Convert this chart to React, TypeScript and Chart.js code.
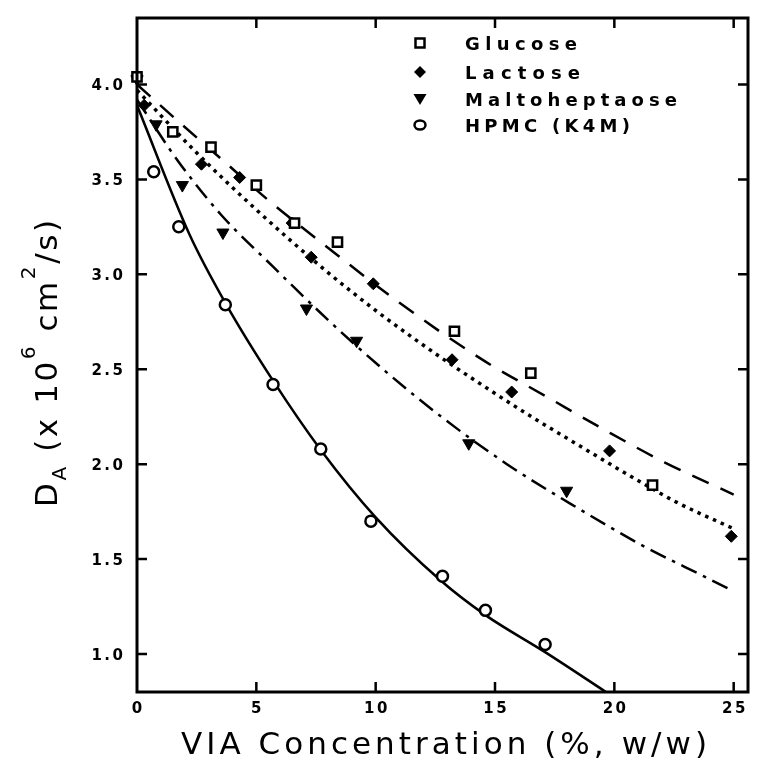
import React, { useEffect, useRef } from "react";
import { Chart, registerables } from "chart.js";

Chart.register(...registerables);

// ---------- data ----------
const glucoseX = [0, 1.5, 3.1, 5.0, 6.6, 8.4, 13.3, 16.5, 21.6];
const glucoseY = [4.04, 3.75, 3.67, 3.47, 3.27, 3.17, 2.70, 2.48, 1.89];

const lactoseX = [0, 0.3, 2.7, 4.3, 6.5, 7.3, 9.9, 13.2, 15.7, 19.8, 24.9];
const lactoseY = [4.04, 3.89, 3.58, 3.51, 3.27, 3.09, 2.95, 2.55, 2.38, 2.07, 1.62];

const maltoX = [0, 0.8, 1.9, 3.6, 7.1, 9.2, 13.9, 18.0];
const maltoY = [4.03, 3.79, 3.47, 3.22, 2.82, 2.65, 2.11, 1.86];

const hpmcX = [0.7, 1.75, 3.7, 5.7, 7.7, 9.8, 12.8, 14.6, 17.1];
const hpmcY = [3.54, 3.25, 2.84, 2.42, 2.08, 1.70, 1.41, 1.23, 1.05];

// fitted curves
const glucoseFitX = [0, 1.6, 3.6, 5.6, 7.8, 11.0, 14.6, 17.1, 19.6, 22.1, 25];
const glucoseFitY = [4.0, 3.82, 3.6, 3.38, 3.16, 2.85, 2.54, 2.36, 2.18, 2.01, 1.84];

const lactoseFitX = [0, 2.5, 5.0, 7.9, 10.1, 12.7, 14.3, 16.4, 18.5, 20.5, 22.6, 25];
const lactoseFitY = [3.97, 3.64, 3.34, 3.02, 2.8, 2.565, 2.43, 2.26, 2.1, 1.95, 1.8, 1.66];

const maltoFitX = [0, 1.7, 3.55, 5.7, 8.0, 10.4, 12.85, 15.5, 18.45, 21.2, 23.9, 25];
const maltoFitY = [3.92, 3.6, 3.31, 3.04, 2.76, 2.49, 2.24, 2.0, 1.77, 1.57, 1.4, 1.33];

const hpmcFitX = [0, 2.2, 3.7, 5.7, 7.7, 10.0, 12.7, 14.6, 17.1, 19.65];
const hpmcFitY = [3.89, 3.21, 2.85, 2.44, 2.075, 1.72, 1.39, 1.205, 1.01, 0.8];

const seriesNames = ["Glucose", "Lactose", "Maltoheptaose", "HPMC (K4M)"];
const xTicks = [0, 5, 10, 15, 20, 25];
const yTicks = [1.0, 1.5, 2.0, 2.5, 3.0, 3.5, 4.0];
const xTitle = "VIA Concentration (%, w/w)";

const X_MIN = 0;
const X_MAX = 25.6;
const Y_MIN = 0.8;
const Y_MAX = 4.35;

const zip = (xs: number[], ys: number[]) => xs.map((x, i) => ({ x, y: ys[i] }));

const FONT = '"DejaVu Sans", sans-serif';

function charWidths(ctx: CanvasRenderingContext2D, text: string) {
  return Array.from(text).map((c) => ctx.measureText(c).width);
}

function drawSpaced(
  ctx: CanvasRenderingContext2D,
  text: string,
  x: number,
  y: number,
  opts: { target?: number; spacing?: number; align?: "left" | "center" | "right" }
) {
  const chars = Array.from(text);
  const ws = charWidths(ctx, text);
  const natural = ws.reduce((a, b) => a + b, 0);
  let sp = opts.spacing ?? 0;
  if (opts.target !== undefined && chars.length > 1) sp = (opts.target - natural) / (chars.length - 1);
  const total = natural + sp * (chars.length - 1);
  let cx = x;
  if (opts.align === "center") cx = x - total / 2;
  else if (opts.align === "right") cx = x - total;
  ctx.textAlign = "left";
  chars.forEach((c, i) => {
    ctx.fillText(c, cx, y);
    cx += ws[i] + sp;
  });
}

const framePlugin = {
  id: "framePlugin",
  afterDraw(chart: any) {
    const ctx: CanvasRenderingContext2D = chart.ctx;
    const { left, right, top, bottom } = chart.chartArea;
    const xs = chart.scales.x;
    const ys = chart.scales.y;
    ctx.save();
    ctx.strokeStyle = "#000";
    ctx.fillStyle = "#000";
    // frame
    ctx.lineWidth = 3;
    ctx.strokeRect(left, top, right - left, bottom - top);
    // inward ticks
    ctx.lineWidth = 2.5;
    const TL = 10;
    xTicks.forEach((v) => {
      if (v === X_MIN) return;
      const px = xs.getPixelForValue(v);
      ctx.beginPath();
      ctx.moveTo(px, bottom);
      ctx.lineTo(px, bottom - TL);
      ctx.moveTo(px, top);
      ctx.lineTo(px, top + TL);
      ctx.stroke();
    });
    yTicks.forEach((v) => {
      const py = ys.getPixelForValue(v);
      ctx.beginPath();
      ctx.moveTo(left, py);
      ctx.lineTo(left + TL, py);
      ctx.moveTo(right, py);
      ctx.lineTo(right - TL, py);
      ctx.stroke();
    });
    // tick labels
    ctx.font = `bold 15px ${FONT}`;
    ctx.textBaseline = "alphabetic";
    yTicks.forEach((v) => {
      const py = ys.getPixelForValue(v);
      drawSpaced(ctx, v.toFixed(1), left - 14, py + 5.5, { spacing: 2.5, align: "right" });
    });
    xTicks.forEach((v) => {
      const px = xs.getPixelForValue(v);
      drawSpaced(ctx, String(v), px, 713, { spacing: 2.5, align: "center" });
    });
    // x title
    ctx.font = `31px ${FONT}`;
    drawSpaced(ctx, xTitle, 444, 754, { target: 526, align: "center" });

    // y title (rotated), with subscript / superscripts
    ctx.save();
    ctx.translate(57, 507);
    ctx.rotate(-Math.PI / 2);
    const runs: { t: string; size: number; dy: number }[] = [
      { t: "D", size: 31, dy: 0 },
      { t: "A", size: 20, dy: 9 },
      { t: " (x 10", size: 31, dy: 0 },
      { t: "6", size: 20, dy: -22 },
      { t: " cm", size: 31, dy: 0 },
      { t: "2", size: 20, dy: -22 },
      { t: "/s)", size: 31, dy: 0 },
    ];
    let natural = 0;
    let nChars = 0;
    const runWidths = runs.map((r) => {
      ctx.font = `${r.size}px ${FONT}`;
      const ws = charWidths(ctx, r.t);
      natural += ws.reduce((a, b) => a + b, 0);
      nChars += ws.length;
      return ws;
    });
    const sp = (287 - natural) / (nChars - 1);
    let cx = 0;
    runs.forEach((r, ri) => {
      ctx.font = `${r.size}px ${FONT}`;
      Array.from(r.t).forEach((c, i) => {
        ctx.fillText(c, cx, r.dy);
        cx += runWidths[ri][i] + sp;
      });
    });
    ctx.restore();

    // legend
    const rowsY = [43, 72, 99, 125];
    const targets = [112, 115, 212, 165];
    const mx = 420;
    ctx.lineWidth = 2.5;
    // square
    ctx.fillStyle = "#fff";
    ctx.fillRect(mx - 4.5, rowsY[0] - 4.5, 9, 9);
    ctx.strokeRect(mx - 4.5, rowsY[0] - 4.5, 9, 9);
    ctx.fillStyle = "#000";
    // diamond
    ctx.beginPath();
    ctx.moveTo(mx, rowsY[1] - 6);
    ctx.lineTo(mx + 6, rowsY[1]);
    ctx.lineTo(mx, rowsY[1] + 6);
    ctx.lineTo(mx - 6, rowsY[1]);
    ctx.closePath();
    ctx.fill();
    // triangle down
    ctx.beginPath();
    ctx.moveTo(mx - 6.5, rowsY[2] - 5);
    ctx.lineTo(mx + 6.5, rowsY[2] - 5);
    ctx.lineTo(mx, rowsY[2] + 6);
    ctx.closePath();
    ctx.fill();
    // circle
    ctx.beginPath();
    ctx.ellipse(mx, rowsY[3], 5.5, 4.5, 0, 0, Math.PI * 2);
    ctx.stroke();

    ctx.font = `bold 18px ${FONT}`;
    seriesNames.forEach((n, i) => {
      drawSpaced(ctx, n, 465, rowsY[i] + 6.5, { target: targets[i], align: "left" });
    });
    ctx.restore();
  },
};

export default function App() {
  const ref = useRef<HTMLCanvasElement>(null);
  useEffect(() => {
    if (!ref.current) return;
    const pointBase = {
      showLine: false,
      clip: false,
      pointBorderColor: "#000",
      pointBorderWidth: 2.5,
      pointHoverRadius: 0,
    };
    const lineBase = {
      showLine: true,
      pointRadius: 0,
      pointHoverRadius: 0,
      borderColor: "#000",
      borderWidth: 2.5,
      cubicInterpolationMode: "monotone" as const,
      fill: false,
    };
    const chart = new Chart(ref.current, {
      type: "scatter",
      data: {
        datasets: [
          { ...pointBase, label: seriesNames[0], data: zip(glucoseX, glucoseY), pointStyle: "rect", pointRadius: 6.5, pointBackgroundColor: "#fff" },
          { ...pointBase, label: seriesNames[1], data: zip(lactoseX, lactoseY), pointStyle: "rectRot", pointRadius: 6, pointBorderWidth: 1, pointBackgroundColor: "#000" },
          { ...pointBase, label: seriesNames[2], data: zip(maltoX, maltoY), pointStyle: "triangle", rotation: 180, pointRadius: 7, pointBorderWidth: 1, pointBackgroundColor: "#000" },
          { ...pointBase, label: seriesNames[3], data: zip(hpmcX, hpmcY), pointStyle: "circle", pointRadius: 5.5, pointBackgroundColor: "#fff" },
          { ...lineBase, label: "Glucose fit", data: zip(glucoseFitX, glucoseFitY), borderDash: [18, 13] },
          { ...lineBase, label: "Lactose fit", data: zip(lactoseFitX, lactoseFitY), borderDash: [3.5, 5], borderWidth: 3.5 },
          { ...lineBase, label: "Maltoheptaose fit", data: zip(maltoFitX, maltoFitY), borderDash: [17, 7, 3.5, 7] },
          { ...lineBase, label: "HPMC fit", data: zip(hpmcFitX, hpmcFitY) },
        ],
      },
      options: {
        responsive: false,
        animation: false,
        devicePixelRatio: 1,
        events: [],
        layout: { padding: { left: 137, top: 18, right: 5, bottom: 68 } },
        plugins: { legend: { display: false }, tooltip: { enabled: false } },
        scales: {
          x: { type: "linear", min: X_MIN, max: X_MAX, display: false },
          y: { type: "linear", min: Y_MIN, max: Y_MAX, display: false },
        },
      },
      plugins: [framePlugin],
    } as any);
    return () => chart.destroy();
  }, []);
  return (
    <div style={{ position: "fixed", left: 0, top: 0, width: 757, height: 760, background: "#fff" }}>
      <canvas ref={ref} width={757} height={760} style={{ display: "block" }} />
    </div>
  );
}
